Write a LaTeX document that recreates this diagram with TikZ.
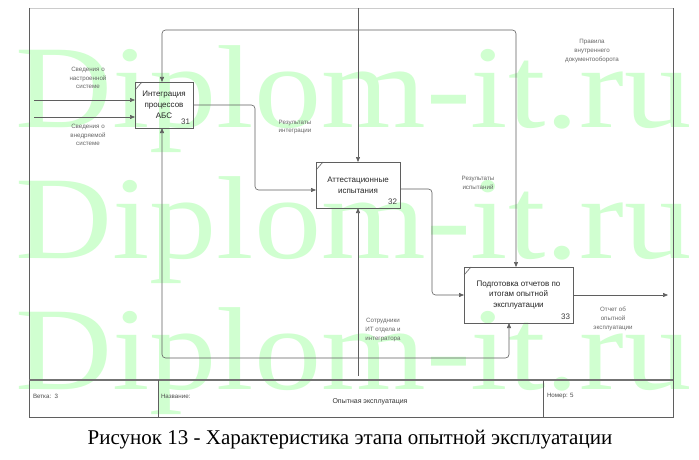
\documentclass[tikz,border=0pt]{standalone}
\usepackage{fontspec}
\setmainfont{Liberation Sans}
\newfontfamily\capfont{Liberation Serif}
\newfontfamily\wmfont{Liberation Serif}
\usetikzlibrary{arrows.meta}
\definecolor{wm}{RGB}{208,255,208}
\definecolor{ln}{RGB}{95,95,95}
\begin{document}
\begin{tikzpicture}[x=1pt,y=-1pt,
  every node/.style={inner sep=0pt, outer sep=0pt},
  box/.style={draw=ln, line width=0.7pt, rectangle, align=center,
    font=\fontsize{8}{10.8}\selectfont, text=black!85},
  num/.style={font=\fontsize{8}{9}\selectfont, text=black!75, anchor=south east},
  lbl/.style={align=center, font=\fontsize{6.2}{8.8}\selectfont, text=black!60},
  tb/.style={font=\fontsize{6.2}{8}\selectfont, text=black!70, anchor=west},
  wmark/.style={font=\wmfont\fontsize{118}{118}\selectfont, text=wm, anchor=base west, xscale=1.14},
  arr/.style={draw=ln, line width=0.6pt, -{Triangle[length=5pt,width=4pt]}, rounded corners=3.5pt},
  frame/.style={draw=ln, line width=0.6pt}
]
\useasboundingbox (0,0) rectangle (699,460);
\fill[white] (0,0) rectangle (699,460);

% watermark
\node[wmark] (wm1) at (15,127) {Diplom-it.ru};
\node[wmark] (wm2) at (15,258) {Diplom-it.ru};
\node[wmark] (wm3) at (15,389) {Diplom-it.ru};

% frame
\coordinate (ftl) at (29,8);
\coordinate (ftr) at (673,8);
\coordinate (fbl) at (29,417);
\coordinate (fbr) at (673,417);
\draw[draw=black!20, line width=0.6pt] (ftl) -- (ftr);
\draw[frame] (ftl) -- (fbl) -- (fbr) -- (ftr);
\coordinate (tbl) at (29,380);
\coordinate (tbr) at (673,380);
\draw[draw=black!55, line width=1.1pt] (tbl) -- (tbr);
\coordinate (d1t) at (158,380); \coordinate (d1b) at (158,417);
\coordinate (d2t) at (543,380); \coordinate (d2b) at (543,417);
\draw[frame] (d1t) -- (d1b);
\draw[frame] (d2t) -- (d2b);
\node[tb] (vetka) at (33,396) {Ветка:\ \ 3};
\node[tb] (nazv) at (161,396) {Название:};
\node[font=\fontsize{7}{8}\selectfont, text=black!80] (title) at (370,402) {Опытная эксплуатация};
\node[tb] (nomer) at (547,396) {Номер: 5};

% boxes
\node[box, minimum width=58pt, minimum height=46pt] (b31) at (164,105) {Интеграция\\процессов\\АБС};
\node[box, minimum width=84pt, minimum height=46pt] (b32) at (358,185) {Аттестационные\\испытания};
\node[box, minimum width=109pt, minimum height=56pt] (b33) at (518.5,295) {Подготовка отчетов по\\итогам опытной\\эксплуатации};
\node[num] (n31) at ([xshift=-3pt,yshift=3pt]b31.south east) {31};
\node[num] (n32) at ([xshift=-3pt,yshift=3pt]b32.south east) {32};
\node[num] (n33) at ([xshift=-3pt,yshift=3pt]b33.south east) {33};
\foreach \b in {b31,b32,b33}{
  \draw[draw=ln, line width=0.6pt] ([yshift=-8pt]\b.north west) -- ([xshift=7pt]\b.north west);
}

% inputs
\coordinate (in1) at (34,100);
\coordinate (in2) at (34,117);
\draw[arr] (in1) -- (in1 -| b31.west);
\draw[arr] (in2) -- (in2 -| b31.west);
\node[lbl] (lin1) at (88,78) {Сведения о\\настроенной\\системе};
\node[lbl] (lin2) at (88,135) {Сведения о\\внедряемой\\системе};

% outputs
\coordinate (c1) at (255,105);
\coordinate (c2) at (255,190);
\draw[arr] (b31.east) -- (c1) -- (c2) -- ([yshift=-5pt]b32.west);
\node[lbl] (lo31) at (295,127) {Результаты\\интеграции};

\coordinate (c3) at (432,189);
\coordinate (c4) at (432,295);
\draw[arr] ([yshift=-4pt]b32.east) -- (c3) -- (c4) -- (b33.west);
\node[lbl] (lo32) at (478,183) {Результаты\\испытаний};

\coordinate (out33) at (668,295);
\draw[arr] (b33.east) -- (out33);
\node[lbl] (lo33) at (613,319) {Отчет об\\опытной\\эксплуатации};

% controls
\coordinate (ctop) at (358,8);
\coordinate (cj) at (358,30);
\coordinate (cl) at (162,30);
\coordinate (cr) at (516,30);
\draw[arr] (ctop) -- (b32.north);
\draw[arr] (cj) -- (cl) -- ([xshift=-2pt]b31.north);
\draw[arr] (cj) -- (cr) -- ([xshift=-2.5pt]b33.north);
\node[lbl] (lctl) at (592,51) {Правила\\внутреннего\\документооборота};

% mechanisms
\coordinate (mbot) at (358,376);
\coordinate (mj) at (358,358);
\coordinate (ml) at (162,358);
\coordinate (mr) at (509,358);
\draw[arr] (mbot) -- (b32.south);
\draw[arr] (mj) -- (ml) -- ([xshift=-2pt]b31.south);
\draw[arr] (mj) -- (mr) -- ([xshift=-9.5pt]b33.south);
\node[lbl] (lmech) at (383,330) {Сотрудники\\ИТ отдела и\\интегратора};

% caption
\node[font=\capfont\fontsize{21}{24}\selectfont] (cap) at (350,440) {Рисунок 13 - Характеристика этапа опытной эксплуатации};
\end{tikzpicture}
\end{document}
